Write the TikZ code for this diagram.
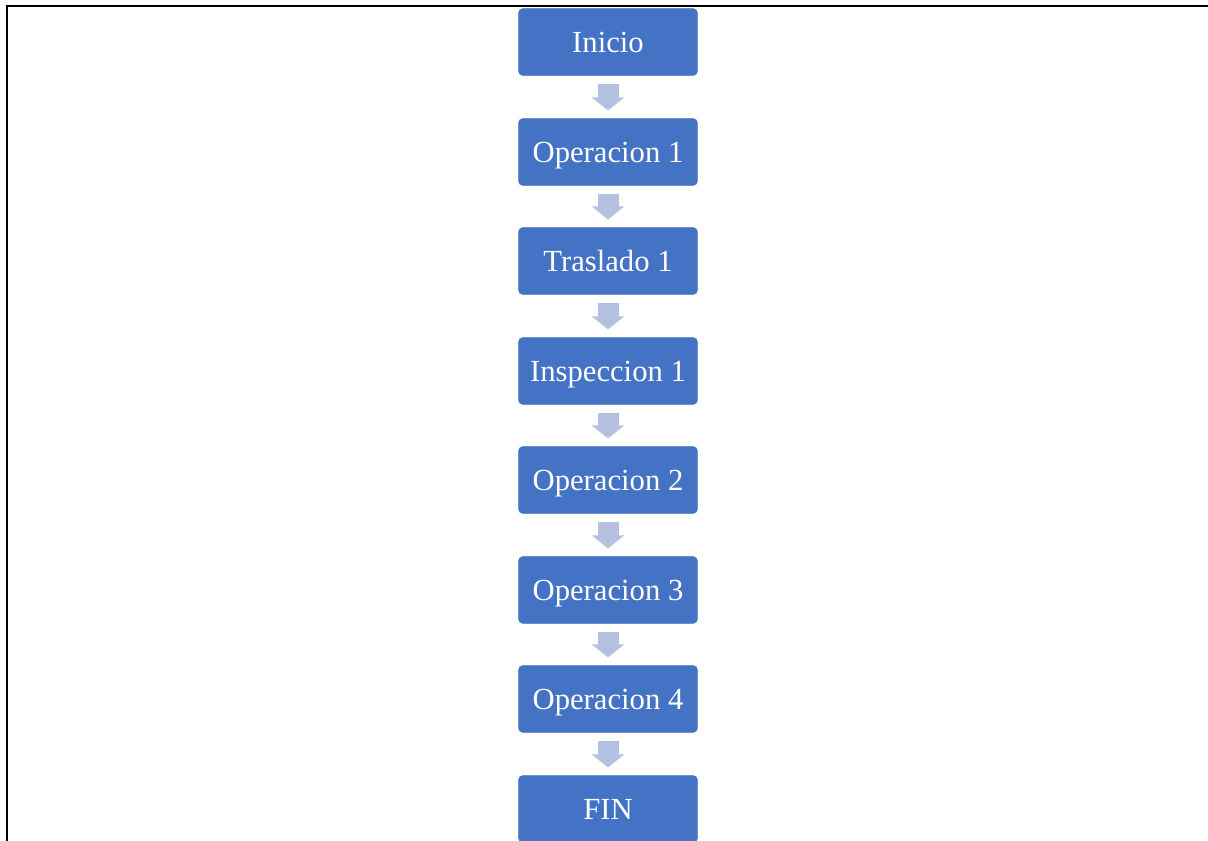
\documentclass[tikz,border=0pt]{standalone}
\usepackage{fontspec}
\setmainfont{Liberation Serif}
\usetikzlibrary{arrows.meta}

\definecolor{cajaazul}{RGB}{68,114,196}
\definecolor{flechaazul}{RGB}{180,193,224}

\tikzset{
  caja/.style={draw=cajaazul, fill=cajaazul, rounded corners=3pt, minimum width=134pt, minimum height=50pt, inner sep=0pt, text height=15.2pt, text depth=0pt, text=white, font=\fontsize{23}{27}\selectfont},
  flecha/.style={draw=flechaazul, line width=15.75pt, -{Triangle[width=24pt,length=9.75pt]}, shorten <=6pt, shorten >=6pt}
}

\begin{document}
\begin{tikzpicture}[x=0.75pt,y=0.75pt,yscale=-1,xscale=1]
\useasboundingbox (0,0) rectangle (1208,840);

%Frame
\draw [line width=1.5pt]  (6.5,845) -- (6.5,5.5) -- (1212,5.5) ;

% Boxes
\node [caja] (inicio) at (608,42) {Inicio};
\node [caja] (op1) at (608,152) {Operacion 1};
\node [caja] (tras1) at (608,261) {Traslado 1};
\node [caja] (insp1) at (608,371) {Inspeccion 1};
\node [caja] (op2) at (608,480) {Operacion 2};
\node [caja] (op3) at (608,590) {Operacion 3};
\node [caja] (op4) at (608,699) {Operacion 4};
\node [caja] (fin) at (608,809) {FIN};

% Arrows
\draw [flecha] (inicio) -- (op1) ;
\draw [flecha] (op1) -- (tras1) ;
\draw [flecha] (tras1) -- (insp1) ;
\draw [flecha] (insp1) -- (op2) ;
\draw [flecha] (op2) -- (op3) ;
\draw [flecha] (op3) -- (op4) ;
\draw [flecha] (op4) -- (fin) ;

\end{tikzpicture}
\end{document}
